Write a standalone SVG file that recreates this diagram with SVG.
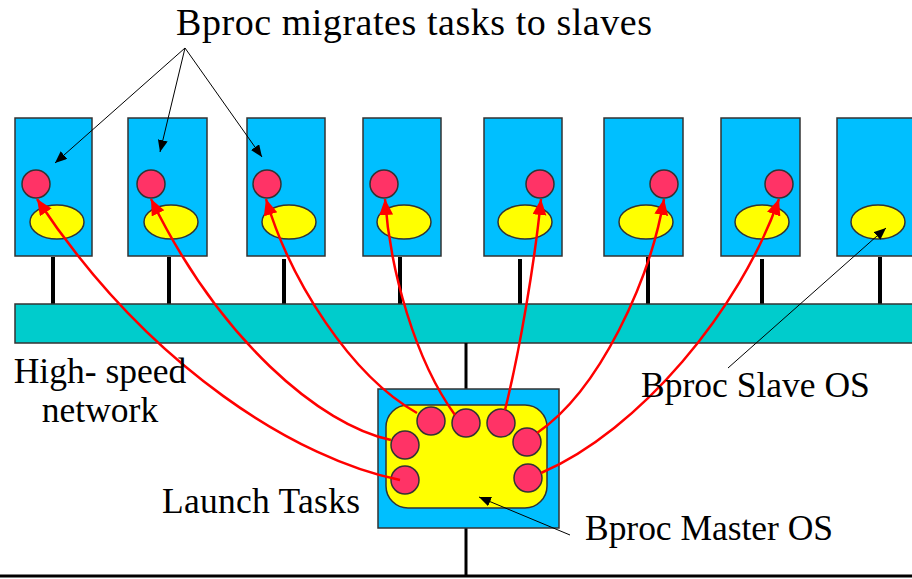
<svg xmlns="http://www.w3.org/2000/svg" width="912" height="579" viewBox="0 0 912 579">
  <style>
    .slave { fill: #00BFFF; stroke: #333; stroke-width: 1.5; }
    .os { fill: #FFFF00; stroke: #333; stroke-width: 1.5; }
    .task { fill: #FF3366; stroke: #333; stroke-width: 1.5; }
    .stem { stroke: #000; stroke-width: 4; }
    .wire { stroke: #000; stroke-width: 3; fill: none; }
    .bus { fill: #00CCCC; stroke: #333; stroke-width: 1.5; }
    .label { font-family: "Liberation Serif", "Times New Roman", serif; font-size: 35.5px; fill: #000; }
    .title { font-size: 38px; }
    .migrate { stroke: #FF0000; stroke-width: 2.5; fill: none; marker-end: url(#redHead); }
    .pointer { stroke: #000; stroke-width: 1; fill: none; marker-end: url(#blackHead); }
  </style>
  <defs>
    <marker id="redHead" markerUnits="userSpaceOnUse" markerWidth="18" markerHeight="16" refX="16" refY="7" orient="auto">
      <path d="M0,0 L16,7 L0,14 Z" fill="#FF0000"/>
    </marker>
    <marker id="blackHead" markerUnits="userSpaceOnUse" markerWidth="14" markerHeight="12" refX="12" refY="5" orient="auto">
      <path d="M0,0 L12,5 L0,10 Z" fill="#000"/>
    </marker>
  </defs>

  <rect width="912" height="579" fill="#fff"/>

  <!-- network backbone and wiring -->
  <g id="network">
    <line class="stem" x1="53" y1="257" x2="53" y2="304"/>
    <line class="stem" x1="169" y1="257" x2="169" y2="304"/>
    <line class="stem" x1="284" y1="259" x2="284" y2="304"/>
    <line class="stem" x1="400" y1="257" x2="400" y2="304"/>
    <line class="stem" x1="520" y1="259" x2="520" y2="304"/>
    <line class="stem" x1="648" y1="257" x2="648" y2="304"/>
    <line class="stem" x1="762" y1="259" x2="762" y2="304"/>
    <line class="stem" x1="880" y1="257" x2="880" y2="304"/>
    <rect class="bus" x="15" y="304" width="900" height="39"/>
    <line class="wire" x1="466" y1="343" x2="466" y2="389"/>
    <line class="wire" x1="466" y1="528" x2="466" y2="576"/>
    <line class="wire" x1="0" y1="576" x2="912" y2="576"/>
  </g>

  <!-- slave nodes -->
  <g id="slave1">
    <rect class="slave" x="15" y="118" width="77" height="138"/>
    <ellipse class="os" cx="57" cy="222" rx="27" ry="17"/>
    <circle class="task" cx="36" cy="184" r="14"/>
  </g>
  <g id="slave2">
    <rect class="slave" x="128" y="118" width="79" height="138"/>
    <ellipse class="os" cx="171" cy="222" rx="27" ry="17"/>
    <circle class="task" cx="151" cy="184" r="14"/>
  </g>
  <g id="slave3">
    <rect class="slave" x="247" y="118" width="78" height="138"/>
    <ellipse class="os" cx="289" cy="222" rx="27" ry="17"/>
    <circle class="task" cx="267" cy="184" r="14"/>
  </g>
  <g id="slave4">
    <rect class="slave" x="363" y="118" width="78" height="138"/>
    <ellipse class="os" cx="404" cy="222" rx="27" ry="17"/>
    <circle class="task" cx="384" cy="184" r="14"/>
  </g>
  <g id="slave5">
    <rect class="slave" x="484" y="118" width="78" height="138"/>
    <ellipse class="os" cx="525" cy="222" rx="27" ry="17"/>
    <circle class="task" cx="540" cy="184" r="14"/>
  </g>
  <g id="slave6">
    <rect class="slave" x="604" y="118" width="79" height="138"/>
    <ellipse class="os" cx="646" cy="222" rx="27" ry="17"/>
    <circle class="task" cx="664" cy="184" r="14"/>
  </g>
  <g id="slave7">
    <rect class="slave" x="721" y="118" width="79" height="138"/>
    <ellipse class="os" cx="762" cy="222" rx="27" ry="17"/>
    <circle class="task" cx="779" cy="184" r="14"/>
  </g>
  <g id="slave8">
    <rect class="slave" x="837" y="118" width="80" height="138"/>
    <ellipse class="os" cx="878" cy="222" rx="27" ry="17"/>
  </g>

  <!-- master node -->
  <g id="master">
    <rect class="slave" x="378" y="389" width="181" height="139"/>
    <rect class="os" x="386" y="405" width="161" height="103" rx="22" ry="22"/>
    <circle class="task" cx="431" cy="421" r="14"/>
    <circle class="task" cx="466" cy="423" r="14"/>
    <circle class="task" cx="501" cy="423" r="14"/>
    <circle class="task" cx="527" cy="442" r="14"/>
    <circle class="task" cx="528" cy="478" r="14"/>
    <circle class="task" cx="405" cy="445" r="14"/>
    <circle class="task" cx="405" cy="480" r="14"/>
  </g>

  <!-- task migration and callout connectors -->
  <g id="connectors">
    <path class="migrate" d="M400,480 C300,460 150,370 37,199"/>
    <path class="migrate" d="M391,440 C320,425 220,340 151,199"/>
    <path class="migrate" d="M417,413 C350,375 290,280 266,199"/>
    <path class="migrate" d="M455,415 C415,360 390,270 385,199"/>
    <path class="migrate" d="M505,410 C520,350 535,260 541,199"/>
    <path class="migrate" d="M537,433 C600,390 650,280 664,199"/>
    <path class="migrate" d="M541,473 C640,430 740,310 779,199"/>

    <line class="pointer" x1="185" y1="48" x2="55" y2="163"/>
    <line class="pointer" x1="185" y1="48" x2="160" y2="152"/>
    <line class="pointer" x1="185" y1="48" x2="262" y2="157"/>
    <line class="pointer" x1="728" y1="368" x2="886" y2="228"/>
    <line class="pointer" x1="570" y1="535" x2="479" y2="497"/>
  </g>

  <!-- labels -->
  <g id="labels">
    <text class="label title" x="176" y="35" textLength="476" lengthAdjust="spacing">Bproc migrates tasks to slaves</text>
    <text class="label" x="100" y="383" text-anchor="middle">High- speed</text>
    <text class="label" x="100" y="422" text-anchor="middle">network</text>
    <text class="label" x="641" y="397">Bproc Slave OS</text>
    <text class="label" x="162" y="513" textLength="198" lengthAdjust="spacing">Launch Tasks</text>
    <text class="label" x="585" y="540" textLength="248" lengthAdjust="spacing">Bproc Master OS</text>
  </g>
</svg>
